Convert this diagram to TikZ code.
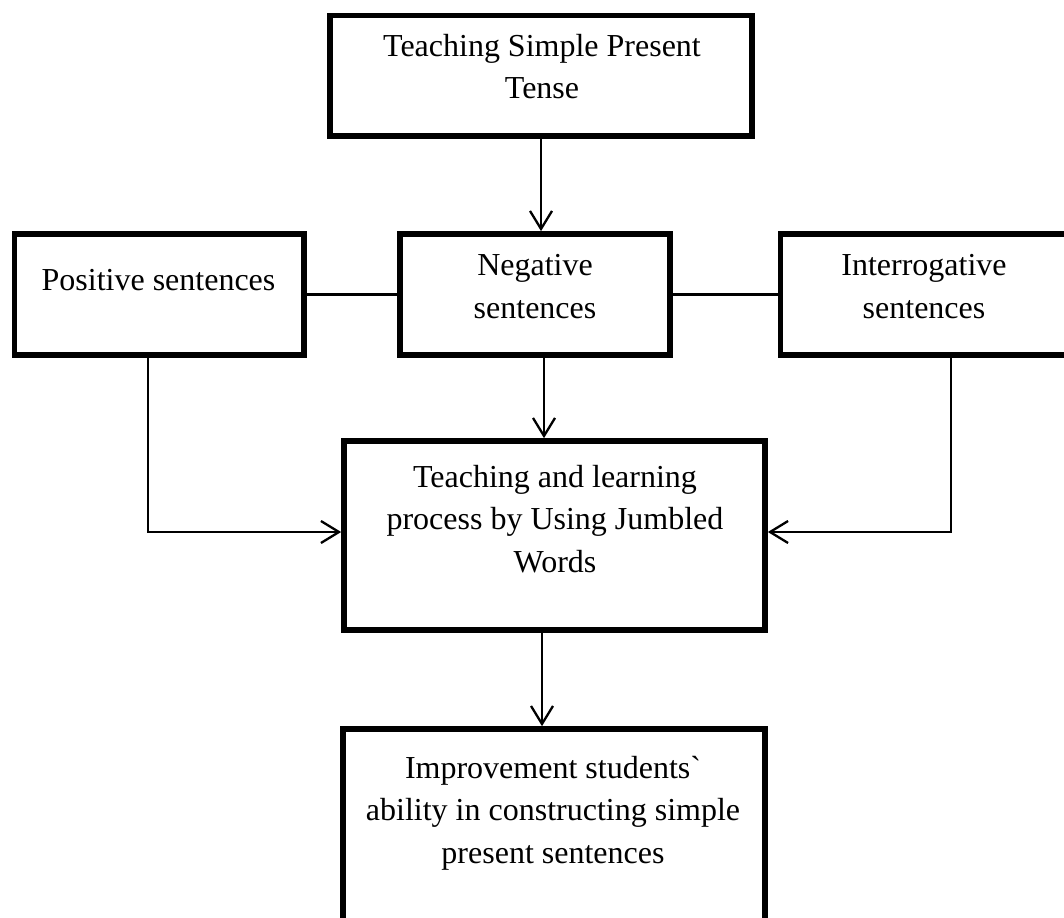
\documentclass[tikz,border=0pt]{standalone}
\usepackage{fontspec}
\setmainfont{Liberation Serif}
\usetikzlibrary{arrows.meta}
\begin{document}
\begin{tikzpicture}[x=1pt,y=-1pt,
  box/.style={draw, line width=5.7pt, rectangle, inner sep=0pt},
  txt/.style={align=center, inner sep=0pt, font=\fontsize{32}{42.5}\selectfont, anchor=base},
  conn/.style={line width=2.3pt},
  arr/.style={conn, -{Straight Barb[length=18pt, width=22pt, line width=2.3pt]}}]
\useasboundingbox (0,0) rectangle (1064,917);
\clip (0,0) rectangle (1064,917);
% boxes
\node[box, minimum width=422pt, minimum height=120.5pt] (top) at (541,75.75) {};
\node[box, minimum width=289.5pt, minimum height=121pt] (pos) at (159.25,294.5) {};
\node[box, minimum width=270pt, minimum height=121pt] (neg) at (535,294.5) {};
\node[box, minimum width=287.5pt, minimum height=121pt] (int) at (924.25,294.5) {};
\node[box, minimum width=421pt, minimum height=189pt] (teach) at (554.5,535.5) {};
\node[box, minimum width=422pt, minimum height=211pt] (imp) at (554,834.5) {};
% texts (anchor base = baseline of the last line)
\node[txt] (toptxt) at (542,99) {Teaching Simple Present\\Tense};
\node[txt] (postxt) at (158.5,290) {Positive sentences};
\node[txt] (negtxt) at (535,318) {Negative\\sentences};
\node[txt] (inttxt) at (924,318) {Interrogative\\sentences};
\node[txt] (teachtxt) at (555,572) {Teaching and learning\\process by Using Jumbled\\Words};
\node[txt] (imptxt) at (553,863) {Improvement students\textasciigrave\\ability in constructing simple\\present sentences};
% connectors
\coordinate (pbend) at (148,532);
\coordinate (ibend) at (951,532);
\coordinate (nx) at (544,0);
\coordinate (tx) at (542,0);
\draw[arr] (top.south) -- (top.south |- neg.north);
\draw[conn] (pos.east) -- (neg.west);
\draw[conn] (neg.east) -- (int.west);
\draw[arr] (neg.south -| nx) -- (teach.north -| nx);
\draw[arr] (pos.south -| pbend) -- (pbend) -- (pbend -| teach.west);
\draw[arr] (int.south -| ibend) -- (ibend) -- (ibend -| teach.east);
\draw[arr] (teach.south -| tx) -- (imp.north -| tx);
\end{tikzpicture}
\end{document}
